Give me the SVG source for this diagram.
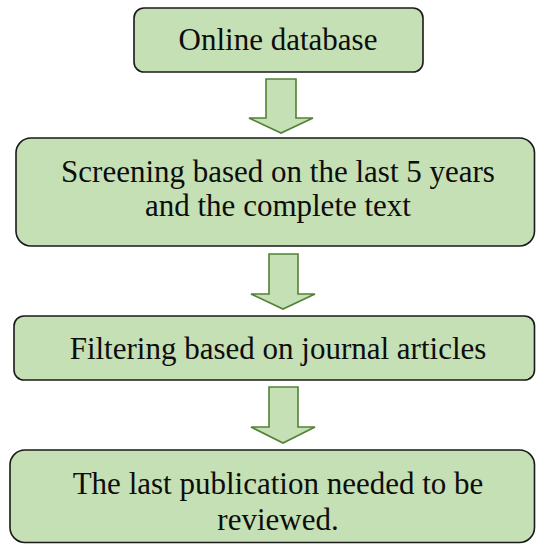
<svg xmlns="http://www.w3.org/2000/svg" width="536" height="544" viewBox="0 0 536 544">
<style>
.box{fill:#c5e0b4;stroke:#1a1a1a;stroke-width:1.6}
.arr{fill:#c5e0b4;stroke:#538135;stroke-width:1.6;stroke-linejoin:miter}
.lbl{font-family:"Liberation Serif","DejaVu Serif",serif;font-size:31px;fill:#0d0d0d;text-anchor:middle}
</style>
<rect width="536" height="544" fill="#ffffff"/>
<g id="n1">
<rect class="box" x="134" y="8" width="289" height="64" rx="10"/>
<text class="lbl" x="278" y="50">Online database</text>
</g>
<g id="n2">
<rect class="box" x="16" y="138" width="518.5" height="108" rx="15"/>
<text class="lbl" x="278" y="182">Screening based on the last 5 years</text>
<text class="lbl" x="278" y="216">and the complete text</text>
</g>
<g id="n3">
<rect class="box" x="14" y="316" width="520.5" height="64" rx="10"/>
<text class="lbl" x="278" y="359">Filtering based on journal articles</text>
</g>
<g id="n4">
<rect class="box" x="10" y="450" width="524.5" height="92.5" rx="15"/>
<text class="lbl" x="278" y="494">The last publication needed to be</text>
<text class="lbl" x="278" y="530">reviewed.</text>
</g>
<g id="connectors">
<polygon class="arr" points="266,79 296,79 296,118 313,118 281,133 249,118 266,118"/>
<polygon class="arr" points="269,254 298,254 298,294 315,294 283,309 251,294 269,294"/>
<polygon class="arr" points="269,387 298,387 298,427 315,427 283,443 251,427 269,427"/>
</g>
</svg>
